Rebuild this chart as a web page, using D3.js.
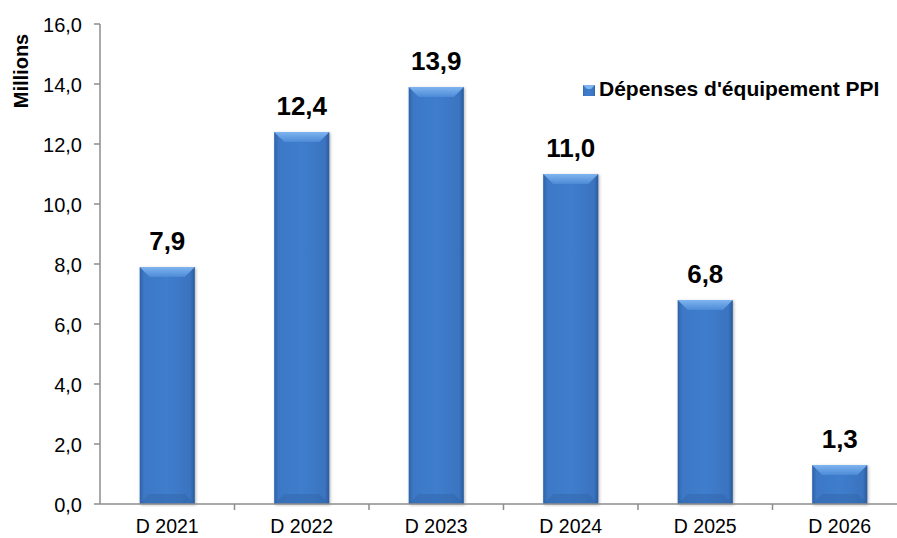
<!DOCTYPE html>
<html><head><meta charset="utf-8">
<script src="https://cdn.jsdelivr.net/npm/d3@7"></script>
<style>body{margin:0;background:#fff}svg{display:block;font-family:"Liberation Sans",Arial,sans-serif}</style>
</head><body>
<script>
const categories = ["D 2021","D 2022","D 2023","D 2024","D 2025","D 2026"];
const values = [7.9,12.4,13.9,11.0,6.8,1.3];
const yTicks = [0,2,4,6,8,10,12,14,16];
const seriesName = "Dépenses d'équipement PPI";
const yTitle = "Millions";

const W=897,H=538;
const svg=d3.select("body").append("svg").attr("width",W).attr("height",H);
const x=d3.scaleBand().domain(categories).range([100,907]).paddingInner(0.59).paddingOuter(0.295);
const xb=d3.scaleBand().domain(categories).range([100,907]);
const y=d3.scaleLinear().domain([0,16]).range([504,24]);
const fmt=v=>d3.format(".1f")(v).replace(".",",");

const defs=svg.append("defs");
const g1=defs.append("linearGradient").attr("id","body").attr("x1","0").attr("x2","1").attr("y1","0").attr("y2","0");
[[0,"#2f62a6"],[0.08,"#3c78c6"],[0.5,"#3f7dcc"],[0.92,"#3a74c0"],[1,"#2a5a9c"]].forEach(s=>g1.append("stop").attr("offset",s[0]).attr("stop-color",s[1]));
const g2=defs.append("linearGradient").attr("id","top").attr("x1","0").attr("x2","0").attr("y1","0").attr("y2","1");
[[0,"#7fb4f0"],[1,"#4d8ad6"]].forEach(s=>g2.append("stop").attr("offset",s[0]).attr("stop-color",s[1]));
const f=defs.append("filter").attr("id","sh").attr("x","-20%").attr("y","-20%").attr("width","140%").attr("height","140%");
f.append("feDropShadow").attr("dx",1).attr("dy",1).attr("stdDeviation",1.5).attr("flood-color","#000").attr("flood-opacity",0.3);

const bars=svg.append("g").selectAll("g").data(values).join("g").attr("filter","url(#sh)");
bars.append("rect").attr("x",(d,i)=>x(categories[i])).attr("y",d=>y(d)).attr("width",x.bandwidth()).attr("height",d=>y(0)-y(d)).attr("fill","url(#body)");
const bv=10;
bars.append("path").attr("fill","url(#top)").attr("d",(d,i)=>{const x0=x(categories[i]),x1=x0+x.bandwidth(),t=y(d);return `M${x0},${t}L${x1},${t}L${x1-bv},${t+bv}L${x0+bv},${t+bv}Z`;});
bars.append("path").attr("fill","#2d5e9f").attr("opacity",0.35).attr("d",(d,i)=>{const x0=x(categories[i]),x1=x0+x.bandwidth(),b=y(0);return `M${x0},${b}L${x1},${b}L${x1-bv},${b-bv}L${x0+bv},${b-bv}Z`;});

svg.append("g").selectAll("text").data(values).join("text")
 .attr("x",(d,i)=>x(categories[i])+x.bandwidth()/2).attr("y",d=>y(d)-17)
 .attr("text-anchor","middle").attr("font-weight","bold").attr("font-size",26).attr("fill","#000").text(d=>fmt(d));

// y axis
const ya=svg.append("g");
ya.append("line").attr("x1",100).attr("x2",100).attr("y1",y(16)).attr("y2",y(0)).attr("stroke","#8c8c8c").attr("stroke-width",1.5);
ya.selectAll("line.t").data(yTicks).join("line").attr("class","t").attr("x1",94).attr("x2",100).attr("y1",d=>y(d)).attr("y2",d=>y(d)).attr("stroke","#8c8c8c").attr("stroke-width",1.5);
ya.selectAll("text").data(yTicks).join("text").attr("x",82).attr("y",d=>y(d)+7.5).attr("text-anchor","end").attr("font-size",20).attr("fill","#000").text(d=>fmt(d));

// x axis
const xa=svg.append("g");
xa.append("line").attr("x1",100).attr("x2",907).attr("y1",y(0)).attr("y2",y(0)).attr("stroke","#8c8c8c").attr("stroke-width",1.5);
xa.selectAll("line.t").data(categories).join("line").attr("class","t").attr("x1",d=>xb(d)+xb.bandwidth()).attr("x2",d=>xb(d)+xb.bandwidth()).attr("y1",y(0)).attr("y2",y(0)+6).attr("stroke","#8c8c8c").attr("stroke-width",1.5);
xa.selectAll("text").data(categories).join("text").attr("x",d=>xb(d)+xb.bandwidth()/2).attr("y",y(0)+29).attr("text-anchor","middle").attr("font-size",19.5).attr("fill","#000").text(d=>d);

svg.append("text").attr("transform","translate(28,71) rotate(-90)").attr("text-anchor","middle").attr("font-weight","bold").attr("font-size",20).text(yTitle);

// legend
const lg=svg.append("g").attr("transform","translate(583,85)");
lg.append("rect").attr("width",12).attr("height",11).attr("fill","url(#body)");
lg.append("path").attr("d","M0,0L12,0L8,4L4,4Z").attr("fill","#7fb4f0");
lg.append("text").attr("x",16).attr("y",11).attr("font-weight","bold").attr("font-size",21).text(seriesName);
</script>
</body></html>
